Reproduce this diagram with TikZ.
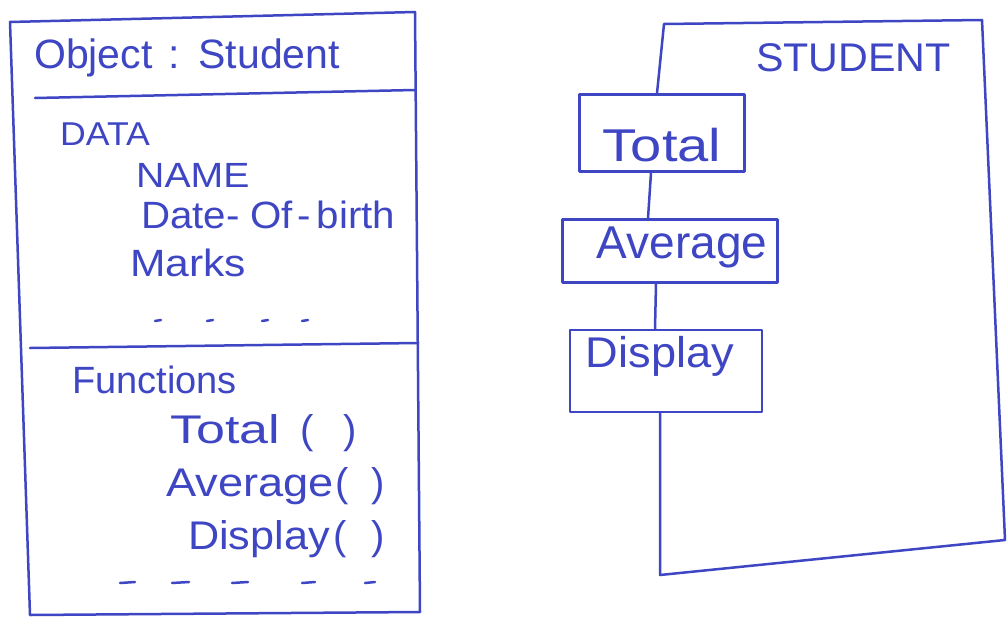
\documentclass[tikz,border=0pt]{standalone}
\usepackage{fontspec}
\setmainfont{Liberation Sans}
\definecolor{ink}{RGB}{62,70,196}
% wide, hand-lettered look: stretch a word horizontally
\newcommand{\wide}[2]{\scalebox{#1}[1]{#2}}
\tikzset{
  pen/.style={draw=ink, line width=2.5pt, line cap=round, line join=round},
  txt/.style={text=ink, inner sep=0pt, anchor=base west},
  fnbox/.style={pen, rectangle, inner sep=0pt},
  boxlbl/.style={text=ink, inner sep=0pt, font=\fontsize{46}{50}\selectfont},
}
\begin{document}
\begin{tikzpicture}[x=1pt, y=-1pt]
\useasboundingbox[fill=white] (0,0) rectangle (1008,618);

% ---- object box: Student ----
\draw[pen] (30,615) -- (10,22) -- (415,12) -- (420,612) -- cycle;
\draw[pen] (35,98) -- (415,90);
\draw[pen] (30,348) -- (418,343);

\node[txt, font=\fontsize{41}{44}\selectfont] (title) at (34,68) {Object\hspace{4pt} : \hspace{4pt}Student};

\node[txt, font=\fontsize{33}{36}\selectfont] (data) at (60,145) {\wide{1.08}{DATA}};
\node[txt, font=\fontsize{35}{38}\selectfont] (name) at (136,187) {\wide{1.12}{NAME}};
\node[txt, font=\fontsize{38}{42}\selectfont] (dob) at (141,228) {\wide{1.06}{Date-\hspace{10pt}Of\hspace{4pt}-\hspace{6pt}birth}};
\node[txt, font=\fontsize{38}{42}\selectfont] (marks) at (130,276) {\wide{1.12}{Marks}};
\foreach \x in {155,207,262,302}
  \draw[pen] (\x,321) -- (\x+6,320);

\node[txt, font=\fontsize{38}{42}\selectfont] (funcs) at (72,393) {Functions};
\node[txt, font=\fontsize{40}{44}\selectfont] (ftot) at (170,443) {\wide{1.3}{Total}\hspace{20pt}(\hspace{30pt})};
\node[txt, font=\fontsize{40}{44}\selectfont] (favg) at (166,496) {\wide{1.13}{Average}\hspace{2pt}(\hspace{22pt})};
\node[txt, font=\fontsize{40}{44}\selectfont] (fdisp) at (188,549) {\wide{1.08}{Display}\hspace{4pt}(\hspace{24pt})};
\foreach \x/\w in {120/15,172/17,232/16,302/13,365/10}
  \draw[pen] (\x,583) -- (\x+\w,582);

% ---- class frame: STUDENT ----
\node[txt, font=\fontsize{40}{44}\selectfont] (cls) at (756,71) {\wide{1.03}{STUDENT}};

\node[fnbox, minimum width=165pt, minimum height=77pt] (tot) at (662,133) {};
\node[fnbox, minimum width=215pt, minimum height=63pt] (avg) at (670,251) {};
\node[fnbox, minimum width=192pt, minimum height=82pt] (disp) at (666,371) {};

\node[boxlbl] at ([yshift=-12pt]tot.center) {\wide{1.22}{Total}};
\node[boxlbl] at ([xshift=12pt,yshift=4pt]avg.center) {Average};
\node[boxlbl, font=\fontsize{43}{47}\selectfont] at ([xshift=-6pt,yshift=15pt]disp.center) {\wide{1.05}{Display}};

\coordinate (ftl) at (664,24);
\coordinate (ftr) at (982,20);
\coordinate (fbr) at (1005,540);
\coordinate (fbl) at (660,575);

\draw[pen] ([xshift=-5pt]tot.north) -- (ftl) -- (ftr) -- (fbr) -- (fbl)
           -- ([xshift=-6pt]disp.south);
\draw[pen] ([xshift=-11pt]tot.south) -- ([xshift=-22pt]avg.north);
\draw[pen] ([xshift=-14pt]avg.south) -- ([xshift=-11pt]disp.north);
\end{tikzpicture}
\end{document}
